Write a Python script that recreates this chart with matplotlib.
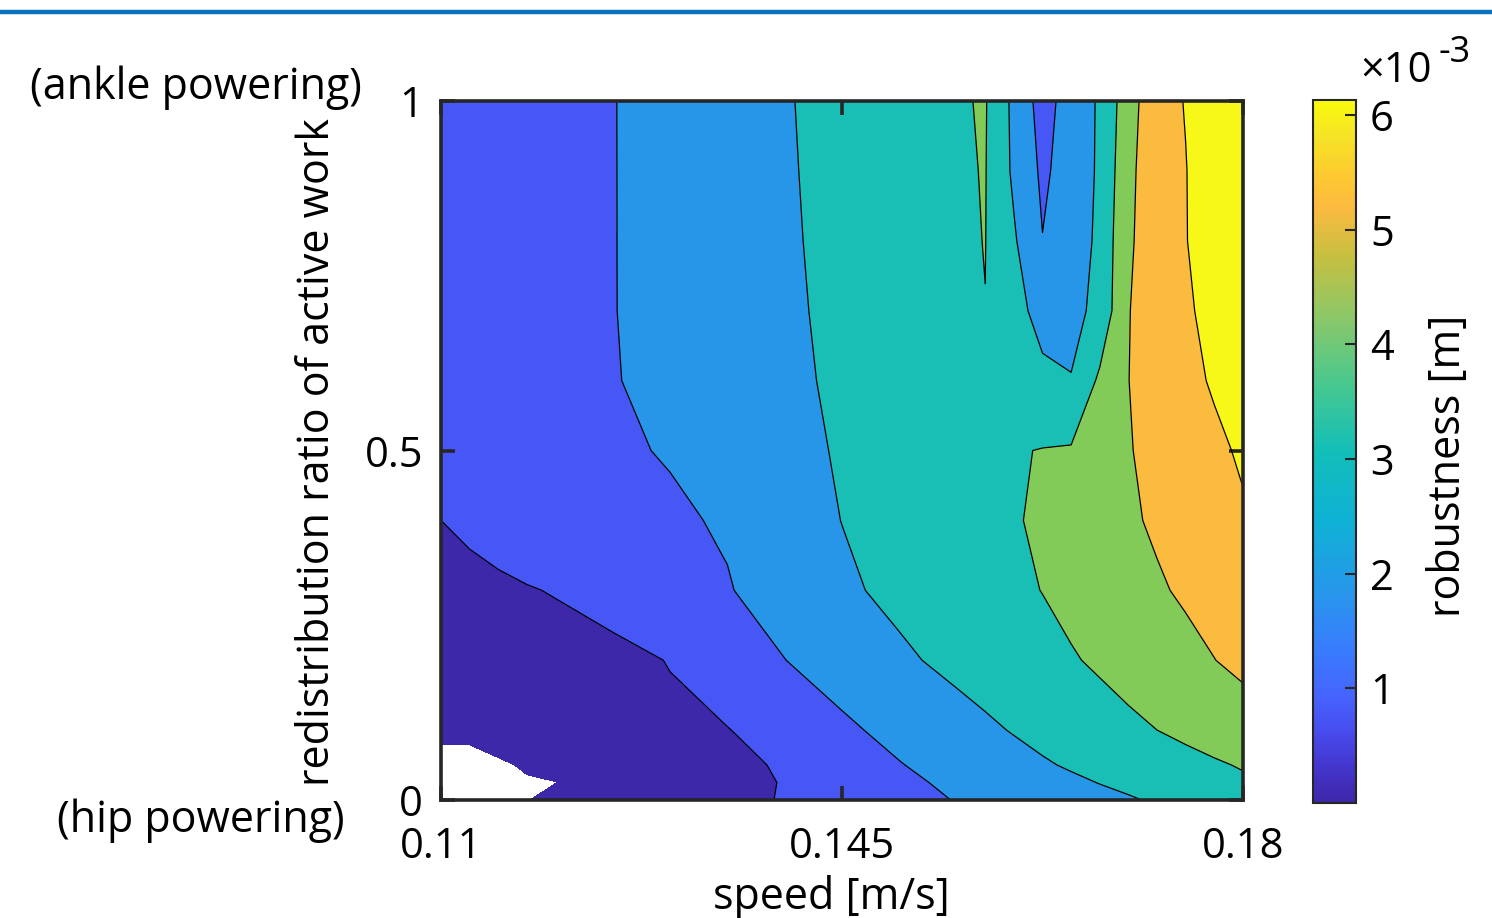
import numpy as np
import matplotlib
matplotlib.use("Agg")
import matplotlib.pyplot as plt
from matplotlib.colors import LinearSegmentedColormap, Normalize
from matplotlib.cm import ScalarMappable
from matplotlib.lines import Line2D

plt.rcParams['font.family'] = ['Open Sans', 'DejaVu Sans']

# ---------------- data ----------------
speed = [0.110, 0.1125, 0.115, 0.1175, 0.120, 0.125, 0.130, 0.135, 0.140, 0.145,
         0.150, 0.155, 0.1575, 0.160, 0.1625, 0.165, 0.1675, 0.170, 0.1725,
         0.175, 0.1775, 0.180]
ratio = [0.0, 0.025, 0.05, 0.1, 0.2, 0.3, 0.4, 0.5, 0.6, 0.7, 0.8, 0.9, 1.0]

# robustness in units of 1e-3 m, one list per ratio row (bottom -> top)
rob_r000 = [0.08, 0.1, 0.14, 0.19, 0.282, 0.445, 0.607, 0.77, 0.93, 1.25, 1.54, 1.83, 1.96, 2.1, 2.23, 2.36, 2.5, 2.63, 2.78, 2.95, 3.12, 3.3]
rob_r0025 = [0.09, 0.095, 0.14, 0.17, 0.195, 0.45, 0.615, 0.78, 0.919, 1.274, 1.629, 1.959, 2.11, 2.26, 2.42, 2.57, 2.72, 2.86, 3.0, 3.15, 3.31, 3.48]
rob_r005 = [0.1, 0.09, 0.152, 0.236, 0.297, 0.461, 0.624, 0.788, 0.95, 1.39, 1.765, 2.109, 2.28, 2.45, 2.62, 2.777, 2.92, 3.07, 3.22, 3.36, 3.51, 3.66]
rob_r010 = [0.27, 0.28, 0.375, 0.437, 0.5, 0.625, 0.75, 0.875, 1.235, 1.654, 2.033, 2.39, 2.57, 2.745, 2.92, 3.09, 3.26, 3.43, 3.6, 3.77, 3.95, 4.13]
rob_r020 = [0.5, 0.553, 0.607, 0.66, 0.713, 0.68, 0.93, 1.39, 1.79, 2.178, 2.565, 2.905, 3.06, 3.22, 3.38, 3.535, 3.714, 3.91, 4.1, 4.29, 4.49, 4.68]
rob_r030 = [0.7, 0.757, 0.815, 0.873, 0.925, 1.231, 1.492, 1.754, 2.146, 2.566, 2.895, 3.18, 3.32, 3.47, 3.613, 3.814, 4.015, 4.216, 4.417, 4.6, 4.77, 4.94]
rob_r040 = [0.9, 1.0, 1.1, 1.2, 1.29, 1.49, 1.69, 1.88, 2.34, 2.71, 2.985, 3.26, 3.40, 3.54, 3.72, 3.95, 4.18, 4.40, 4.6, 4.85, 5.08, 5.31]
rob_r050 = [1.1, 1.2, 1.3, 1.4, 1.5, 1.7, 1.85, 2.16, 2.47, 2.77, 3.05, 3.3, 3.43, 3.55, 3.626, 3.675, 3.95, 4.45, 4.75, 5.0, 5.25, 5.5]
rob_r060 = [1.2, 1.3, 1.4, 1.5, 1.6, 1.76, 2.018, 2.28, 2.55, 2.82, 3.1, 3.35, 3.45, 3.3, 2.90, 2.74, 3.75, 4.49, 4.9, 5.2, 5.48, 5.75]
rob_r070 = [1.2, 1.3, 1.4, 1.5, 1.6, 1.78, 2.046, 2.315, 2.58, 2.865, 3.155, 3.445, 3.59, 3.0, 2.39, 2.4, 2.97, 4.45, 5.2, 5.35, 5.51, 5.85]
rob_r080 = [1.2, 1.3, 1.4, 1.5, 1.6, 1.78, 2.056, 2.33, 2.61, 2.89, 3.18, 3.47, 3.616, 2.8, 1.82, 1.92, 2.99, 4.3, 5.3, 5.38, 5.7, 6.0]
rob_r090 = [1.2, 1.3, 1.4, 1.5, 1.6, 1.78, 2.06, 2.35, 2.63, 2.915, 3.2, 3.49, 3.635, 2.55, 1.65, 2.18, 2.82, 4.29, 5.08, 5.38, 5.82, 6.1]
rob_r100 = [1.2, 1.3, 1.4, 1.5, 1.6, 1.78, 2.07, 2.36, 2.65, 2.93, 3.22, 3.52, 3.66, 2.5, 1.45, 2.19, 2.80, 4.13, 5.13, 5.43, 5.8, 6.1]

levels = [0.2, 0.9, 1.8, 2.7, 3.6, 4.5, 5.4, 7.0]
fill_colors = ['#3C28A8', '#4757F6', '#2896E8', '#19BFB5', '#82CB58', '#FBBB3E', '#F8F818']

xticks = [0.11, 0.145, 0.18]
xticklabels = ['0.11', '0.145', '0.18']
yticks = [0, 0.5, 1]
yticklabels = ['0', '0.5', '1']
cbar_ticks = [1, 2, 3, 4, 5, 6]
cbar_max = 6.13

Z = np.array([rob_r000, rob_r0025, rob_r005, rob_r010, rob_r020, rob_r030, rob_r040,
              rob_r050, rob_r060, rob_r070, rob_r080, rob_r090, rob_r100])
X, Y = np.meshgrid(speed, ratio)

# parula-like colormap
parula_pts = [
    (0.00, (0.2422, 0.1504, 0.6603)),
    (0.05, (0.2647, 0.2102, 0.8025)),
    (0.10, (0.2810, 0.2974, 0.9349)),
    (0.15, (0.2740, 0.3910, 0.9920)),
    (0.22, (0.2200, 0.4900, 0.9900)),
    (0.30, (0.1546, 0.5902, 0.9218)),
    (0.40, (0.0590, 0.6941, 0.8367)),
    (0.50, (0.0704, 0.7463, 0.7229)),
    (0.60, (0.2905, 0.7858, 0.5545)),
    (0.70, (0.5706, 0.7797, 0.3938)),
    (0.78, (0.7800, 0.7500, 0.2500)),
    (0.85, (0.9900, 0.7300, 0.2500)),
    (0.90, (0.9900, 0.8000, 0.1800)),
    (0.95, (0.9600, 0.8900, 0.1500)),
    (1.00, (0.9763, 0.9831, 0.0538)),
]
parula = LinearSegmentedColormap.from_list('parula', parula_pts)

# ---------------- figure ----------------
W, H = 1492, 918
fig = plt.figure(figsize=(W / 100, H / 100), dpi=100)

def fx(px):
    return px / W

def fy(py):
    return 1 - py / H

TICK_FS = 30
LABEL_FS = 31

ax = fig.add_axes([fx(441), fy(800), (1243 - 441) / W, (800 - 101) / H])
ax.contourf(X, Y, Z, levels=levels, colors=fill_colors)
ax.contour(X, Y, Z, levels=levels[1:-1], colors='k', linewidths=0.9)

ax.set_xlim(0.11, 0.18)
ax.set_ylim(0, 1)
ax.set_xticks(xticks)
ax.set_xticklabels(xticklabels)
ax.set_yticks(yticks)
ax.set_yticklabels(yticklabels)
ax.tick_params(direction='in', length=10, width=2.6, color='#262626',
               top=True, right=True, labelsize=TICK_FS)
ax.tick_params(axis='x', pad=19)
ax.tick_params(axis='y', pad=13)
for s in ax.spines.values():
    s.set_linewidth(2.6)
    s.set_color('#262626')
    s.set_zorder(5)

# axis texts
fig.text(fx(318), fy(452), 'redistribution ratio of active work', rotation=90,
         ha='center', va='center', fontsize=LABEL_FS)
fig.text(fx(196), fy(88), '(ankle powering)', ha='center', va='center', fontsize=LABEL_FS)
fig.text(fx(201), fy(821), '(hip powering)', ha='center', va='center', fontsize=LABEL_FS)
fig.text(fx(831), fy(898), 'speed [m/s]', ha='center', va='center', fontsize=LABEL_FS)

# colorbar
cax = fig.add_axes([fx(1313), fy(803), (1356 - 1313) / W, (803 - 100) / H])
sm = ScalarMappable(norm=Normalize(0, cbar_max), cmap=parula)
cb = fig.colorbar(sm, cax=cax)
cb.set_ticks(cbar_ticks)
cb.set_ticklabels([str(t) for t in cbar_ticks])
cax.tick_params(direction='in', length=8, width=1.5, color='#262626',
                labelsize=TICK_FS, pad=10)
cb.outline.set_linewidth(1.5)
cb.outline.set_edgecolor('#262626')
fig.text(fx(1449), fy(466), 'robustness [m]', rotation=90, ha='center', va='center',
         fontsize=LABEL_FS)
fig.text(fx(1360), fy(82), '\u00d710', ha='left', va='baseline', fontsize=TICK_FS)
fig.text(fx(1439), fy(62), '-3', ha='left', va='baseline', fontsize=26)

# top blue rule
fig.add_artist(Line2D([0, 1], [fy(12), fy(12)], transform=fig.transFigure,
                      color='#0A72BD', linewidth=3.2))

fig.savefig('out.png', dpi=100)
